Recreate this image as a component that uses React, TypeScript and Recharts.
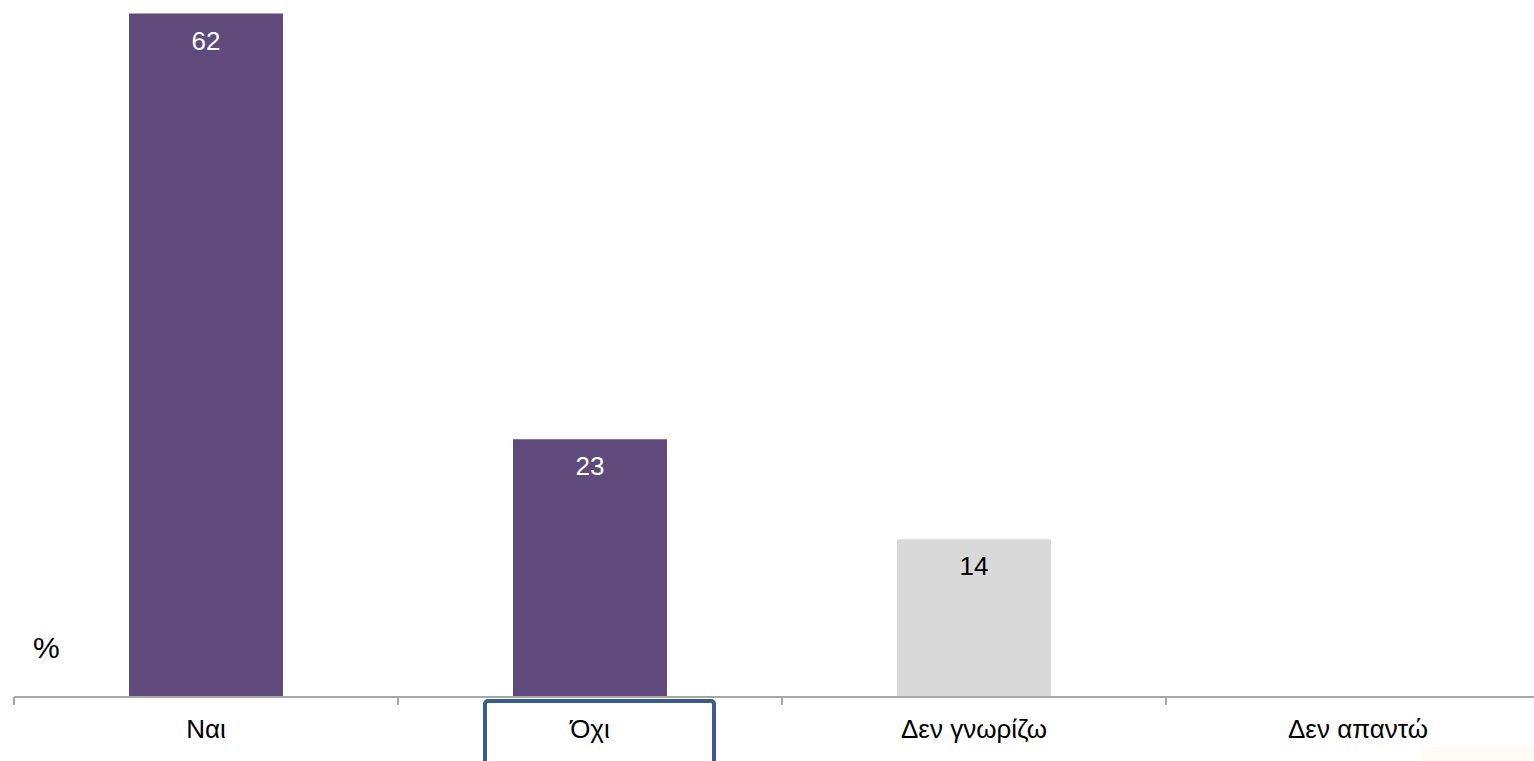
import { Bar, BarChart, Cell, LabelList, XAxis, YAxis } from "recharts";

const categories = ["Ναι", "Όχι", "Δεν γνωρίζω", "Δεν απαντώ"];
const shares = [61.5, 23.2, 14.2, 0];
const barColors = ["#604A7B", "#604A7B", "#D9D9D9", "#D9D9D9"];
const labelColors = ["#FFFFFF", "#FFFFFF", "#000000", "#000000"];
const highlighted = "Όχι";

const FONT = "'Liberation Sans', Arial, sans-serif";
const CHART_W = 1560;
const CHART_H = 761;
const MARGIN = { top: 8, right: 10, left: 14, bottom: 0 };
const BAND = (CHART_W - MARGIN.left - MARGIN.right) / categories.length;

const data = categories.map((name, i) => ({ name, value: shares[i] }));

function CategoryTick(props: any) {
  const { x, y, payload, index } = props;
  const left = x - BAND / 2;
  const isHighlighted = payload.value === highlighted;
  return (
    <g>
      <line x1={left} x2={left} y1={y - 8} y2={y} stroke="#A6A6A6" strokeWidth={2} />
      {index === categories.length - 1 && (
        <line x1={left + BAND} x2={left + BAND} y1={y - 8} y2={y} stroke="#A6A6A6" strokeWidth={2} />
      )}
      {isHighlighted && (
        <rect x={x - 105} y={y - 4} width={229} height={120} rx={3} fill="none" stroke="#385D8A" strokeWidth={4} />
      )}
      <text x={x} y={y + 33} textAnchor="middle" fontFamily={FONT} fontSize={26} fill="#000">
        {payload.value}
      </text>
    </g>
  );
}

function ValueLabel(props: any) {
  const { x, y, width, value, index } = props;
  if (!value) return null;
  return (
    <text x={x + width / 2} y={y + 36} textAnchor="middle" fontFamily={FONT} fontSize={26} fill={labelColors[index]}>
      {Math.round(value)}
    </text>
  );
}

export default function App() {
  return (
    <div style={{ position: "fixed", left: 0, top: 0, width: 1534, height: 761, overflow: "hidden", background: "#fff" }}>
      <BarChart width={CHART_W} height={CHART_H} data={data} margin={MARGIN} barCategoryGap={0}>
        <XAxis
          dataKey="name"
          height={64}
          axisLine={{ stroke: "#A6A6A6", strokeWidth: 2 }}
          tickLine={false}
          tickSize={8}
          tickMargin={0}
          interval={0}
          tick={<CategoryTick />}
        />
        <YAxis hide domain={[0, 62]} />
        <Bar dataKey="value" barSize={154} isAnimationActive={false}>
          {data.map((d, i) => (
            <Cell key={d.name} fill={barColors[i]} />
          ))}
          <LabelList dataKey="value" content={<ValueLabel />} />
        </Bar>
      </BarChart>
      <svg width={100} height={60} style={{ position: "absolute", left: 0, top: 620 }}>
        <text x={33} y={38} fontFamily={FONT} fontSize={30} fill="#000">%</text>
      </svg>
      <div style={{ position: "absolute", left: 1422, top: 747, width: 112, height: 14, background: "#FFFDF3" }} />
    </div>
  );
}
